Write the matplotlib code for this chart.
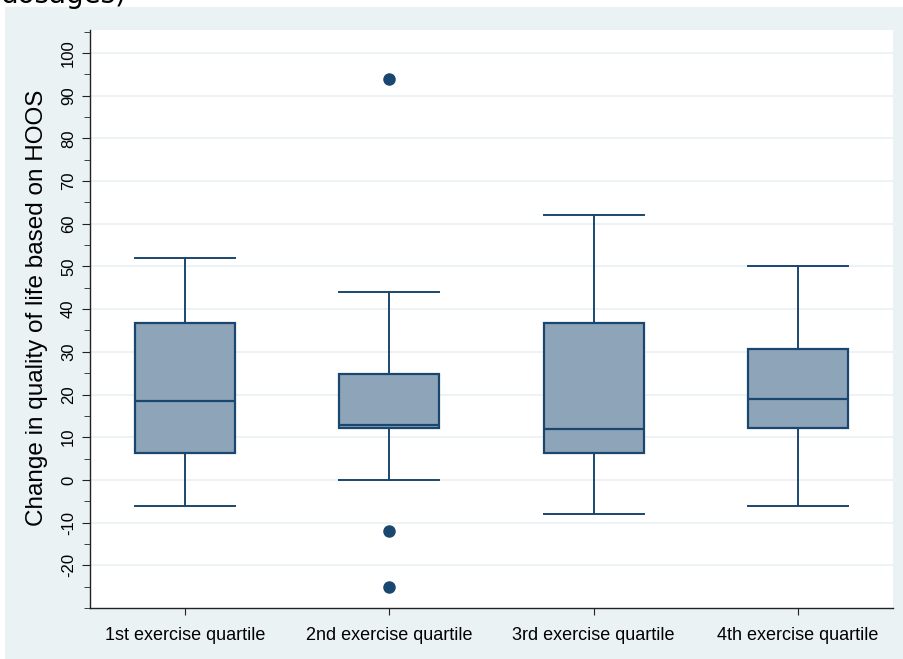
import matplotlib
matplotlib.use("Agg")
import matplotlib.pyplot as plt
from matplotlib.patches import Rectangle
from matplotlib.ticker import MultipleLocator

plt.rcParams['font.family'] = ['Liberation Sans', 'DejaVu Sans']

categories = ["1st exercise quartile", "2nd exercise quartile",
              "3rd exercise quartile", "4th exercise quartile"]
q1 = [6.3, 12.2, 6.3, 12.2]
medians = [18.5, 12.9, 11.9, 19.0]
q3 = [36.8, 24.8, 36.8, 30.7]
whislo = [-6, 0, -8, -6]
whishi = [52, 44, 62, 50]
outliers = [[], [94, -12, -25], [], []]
ylabel = "Change in quality of life based on HOOS"
title = "dosages)"

navy = "#1a476f"
fillc = "#8ea5b9"
bg = "#eaf2f3"

fig = plt.figure(figsize=(9.04, 6.59), dpi=100)
W, H = 904, 659
fig.patches.append(Rectangle((5 / W, 0), 1 - 5 / W, 1 - 7 / H,
                             transform=fig.transFigure, facecolor=bg,
                             edgecolor='none', zorder=-10))
fig.text(0.0, 1 - 3 / H, title, fontsize=20, va='baseline', ha='left',
         family='DejaVu Sans')

ax = fig.add_axes([90 / W, 1 - 608 / H, (893 - 90) / W, (608 - 30) / H])
ax.set_facecolor('white')

stats = []
for i, c in enumerate(categories):
    stats.append(dict(label=c, q1=q1[i], med=medians[i], q3=q3[i],
                      whislo=whislo[i], whishi=whishi[i], fliers=outliers[i]))
pos = list(range(1, len(categories) + 1))
ax.bxp(stats, positions=pos, widths=0.49, patch_artist=True, showfliers=True,
       boxprops=dict(facecolor=fillc, edgecolor=navy, linewidth=1.6),
       medianprops=dict(color=navy, linewidth=1.6),
       whiskerprops=dict(color=navy, linewidth=1.4),
       capprops=dict(color=navy, linewidth=1.4),
       capwidths=0.49,
       flierprops=dict(marker='o', markerfacecolor=navy, markeredgecolor=navy,
                       markersize=8))

ax.set_xlim(1 - 95 / 204.4, 4 + 95 / 204.4)
ax.set_ylim(-30, 100 + 23 / 4.27)
ax.yaxis.set_minor_locator(MultipleLocator(5))
ax.set_yticks(range(-20, 101, 10))
ax.set_yticklabels([str(v) for v in range(-20, 101, 10)], rotation=90,
                   va='center', fontsize=12)
ax.grid(axis='y', which='major', color=bg, linewidth=1.3, zorder=0)
ax.set_axisbelow(True)
ax.set_xticks(pos)
ax.set_xticklabels(categories, fontsize=13)
ax.tick_params(axis='both', which='both', direction='out', color='#222222')
ax.tick_params(axis='y', which='major', length=6, pad=4)
ax.tick_params(axis='y', which='minor', length=4)
ax.tick_params(axis='x', length=5, pad=9)
for s in ['top', 'right']:
    ax.spines[s].set_visible(False)
for s in ['left', 'bottom']:
    ax.spines[s].set_color('#222222')
    ax.spines[s].set_linewidth(1.0)
ax.set_ylabel(ylabel, fontsize=17.5)
ax.yaxis.set_label_coords(-0.052, 0.52)

fig.savefig("out.png", dpi=100, facecolor='white')
